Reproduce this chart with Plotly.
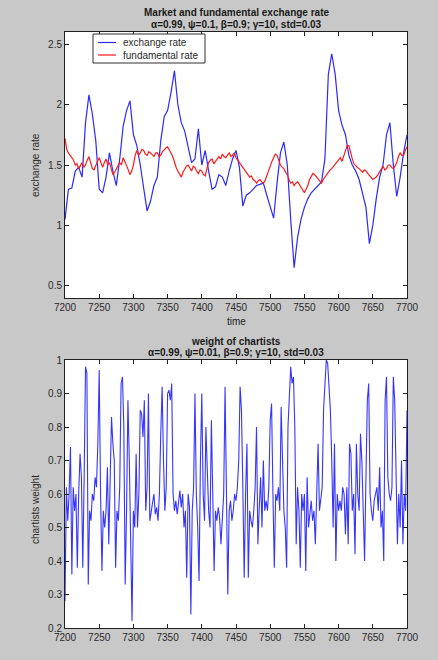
import plotly.graph_objects as go

# ---------------- data ----------------
time_exchange = list(range(7200, 7701, 5))

exchange_rate = [
    1.05, 1.30, 1.31, 1.45, 1.48, 1.40, 1.85, 2.08, 1.92, 1.70,
    1.30, 1.27, 1.40, 1.60, 1.45, 1.33, 1.55, 1.82, 1.95, 2.03,
    1.75, 1.66, 1.50, 1.30, 1.12, 1.20, 1.33, 1.40, 1.70, 1.90,
    1.95, 2.10, 2.28, 2.00, 1.85, 1.78, 1.65, 1.52, 1.55, 1.80,
    1.50, 1.62, 1.45, 1.30, 1.32, 1.42, 1.40, 1.33, 1.45, 1.55,
    1.62, 1.48, 1.16, 1.25, 1.27, 1.30, 1.33, 1.34, 1.35, 1.25,
    1.15, 1.06, 1.35, 1.60, 1.69, 1.50, 1.05, 0.65, 0.90, 1.05,
    1.15, 1.22, 1.27, 1.30, 1.33, 1.36, 1.55, 2.25, 2.42, 2.25,
    1.95, 1.83, 1.75, 1.58, 1.50, 1.45, 1.38, 1.27, 1.15, 0.85,
    1.00, 1.22, 1.40, 1.50, 1.75, 1.85, 1.50, 1.24, 1.40, 1.60,
    1.75,
]

time_fundamental = [7200 + 2.5 * i for i in range(201)]

fundamental_rate = [
    1.72, 1.63, 1.60, 1.58, 1.55, 1.54, 1.50, 1.51, 1.47, 1.50,
    1.52, 1.48, 1.50, 1.54, 1.57, 1.52, 1.47, 1.46, 1.50, 1.53,
    1.56, 1.51, 1.48, 1.52, 1.55, 1.50, 1.52, 1.47, 1.42, 1.44,
    1.47, 1.50, 1.52, 1.50, 1.56, 1.53, 1.50, 1.46, 1.42, 1.45,
    1.50, 1.58, 1.62, 1.58, 1.60, 1.63, 1.62, 1.59, 1.58, 1.61,
    1.60, 1.58, 1.57, 1.60, 1.60, 1.57, 1.58, 1.61, 1.63, 1.64,
    1.65, 1.63, 1.60, 1.57, 1.52, 1.48, 1.45, 1.42, 1.40, 1.44,
    1.47, 1.49, 1.50, 1.47, 1.45, 1.49, 1.48, 1.45, 1.43, 1.46,
    1.45, 1.42, 1.41, 1.47, 1.52, 1.54, 1.55, 1.51, 1.53, 1.56,
    1.57, 1.55, 1.59, 1.57, 1.56, 1.58, 1.60, 1.57, 1.58, 1.60,
    1.56, 1.54, 1.52, 1.49, 1.47, 1.45, 1.44, 1.42, 1.40, 1.41,
    1.38, 1.37, 1.35, 1.37, 1.38, 1.36, 1.35, 1.37, 1.41, 1.46,
    1.50, 1.53, 1.56, 1.59, 1.58, 1.53, 1.50, 1.48, 1.47, 1.44,
    1.42, 1.38, 1.35, 1.36, 1.33, 1.35, 1.36, 1.34, 1.32, 1.29,
    1.27, 1.30, 1.33, 1.38, 1.41, 1.43, 1.42, 1.40, 1.38, 1.36,
    1.35, 1.38, 1.40, 1.43, 1.44, 1.46, 1.47, 1.49, 1.50, 1.53,
    1.55, 1.56, 1.53, 1.58, 1.63, 1.66, 1.66, 1.60, 1.55, 1.51,
    1.49, 1.48, 1.47, 1.45, 1.44, 1.46, 1.45, 1.43, 1.41, 1.40,
    1.38, 1.39, 1.40, 1.42, 1.44, 1.47, 1.49, 1.46, 1.47, 1.50,
    1.50, 1.48, 1.47, 1.49, 1.52, 1.57, 1.60, 1.58, 1.58, 1.62,
    1.65,
]

time_weight = list(range(7200, 7701, 2))

chartist_weight = [
    0.28, 0.62, 0.52, 0.60, 0.74, 0.36, 0.62, 0.55, 0.60, 0.38,
    0.60, 0.72, 0.65, 0.38, 0.65, 0.98, 0.96, 0.33, 0.55, 0.52,
    0.60, 0.58, 0.65, 0.62, 0.75, 0.97, 0.60, 0.37, 0.55, 0.50,
    0.55, 0.68, 0.45, 0.60, 0.83, 0.75, 0.70, 0.38, 0.55, 0.52,
    0.62, 0.93, 0.95, 0.80, 0.33, 0.55, 0.88, 0.70, 0.50, 0.22,
    0.55, 0.50, 0.72, 0.50, 0.60, 0.85, 0.84, 0.77, 0.88, 0.55,
    0.62, 0.90, 0.52, 0.55, 0.58, 0.60, 0.54, 0.56, 0.52, 0.60,
    0.78, 0.92, 0.70, 0.55, 0.62, 0.90, 0.91, 0.88, 0.93, 0.60,
    0.55, 0.58, 0.54, 0.57, 0.61, 0.56, 0.60, 0.50, 0.55, 0.35,
    0.60, 0.56, 0.24, 0.55, 0.62, 0.90, 0.60, 0.50, 0.34, 0.70,
    0.90, 0.60, 0.52, 0.80, 0.65, 0.55, 0.50, 0.82, 0.60, 0.37,
    0.55, 0.52, 0.56, 0.53, 0.45, 0.55, 0.60, 0.92, 0.55, 0.30,
    0.55, 0.58, 0.52, 0.55, 0.60, 0.58, 0.62, 0.70, 0.92, 0.85,
    0.62, 0.35, 0.60, 0.75, 0.35, 0.55, 0.52, 0.50, 0.55, 0.62,
    0.80, 0.45, 0.56, 0.65, 0.50, 0.70, 0.55, 0.58, 0.55, 0.62,
    0.82, 0.87, 0.60, 0.38, 0.60, 0.58, 0.62, 0.55, 0.86, 0.65,
    0.55, 0.50, 0.38, 0.80, 0.92, 0.98, 0.93, 0.95, 0.80, 0.45,
    0.62, 0.55, 0.38, 0.60, 0.55, 0.60, 0.37, 0.65, 0.50, 0.55,
    0.58, 0.52, 0.55, 0.45, 0.62, 0.75, 0.55, 0.58, 0.62, 0.85,
    0.95, 1.00, 0.99, 0.92, 0.85, 0.70, 0.50, 0.75, 0.40, 0.60,
    0.55, 0.58, 0.55, 0.62, 0.60, 0.48, 0.62, 0.45, 0.75, 0.72,
    0.55, 0.60, 0.42, 0.75, 0.60, 0.55, 0.78, 0.70, 0.55, 0.40,
    0.65, 0.88, 0.93, 0.60, 0.55, 0.52, 0.58, 0.60, 0.62, 0.55,
    0.68, 0.50, 0.55, 0.40, 0.88, 0.95, 0.65, 0.60, 0.58, 0.62,
    0.95, 0.88, 0.60, 0.45, 0.60, 0.50, 0.70, 0.45, 0.60, 0.55,
    0.85,
]

top_x_ticks = list(range(7200, 7701, 50))
top_y_ticks = [0.5, 1, 1.5, 2, 2.5]
bottom_y_ticks = [0.2, 0.3, 0.4, 0.5, 0.6, 0.7, 0.8, 0.9, 1]
bottom_y_labels = ["0.2", "0.3", "0.4", "0.5", "0.6", "0.7", "0.8", "0.9", "1"]

legend_names = ["exchange rate", "fundamental rate"]
BLUE = "#2a2aff"
RED = "#ff1a1a"

# ---------------- figure ----------------
W, H = 438, 660
FONT = "Liberation Sans, Arial, sans-serif"
BG = "#c8c8c8"
TXT = "#1a1a1a"

fig = go.Figure()
fig.add_trace(go.Scatter(x=time_exchange, y=exchange_rate, mode="lines",
                         name=legend_names[0], line=dict(color=BLUE, width=1.2),
                         xaxis="x", yaxis="y", hoverinfo="skip"))
fig.add_trace(go.Scatter(x=time_fundamental, y=fundamental_rate, mode="lines",
                         name=legend_names[1], line=dict(color=RED, width=1.2),
                         xaxis="x", yaxis="y", hoverinfo="skip"))
fig.add_trace(go.Scatter(x=time_weight, y=chartist_weight, mode="lines",
                         name="weight", line=dict(color="#3535ff", width=1.1),
                         xaxis="x2", yaxis="y2", hoverinfo="skip"))


def px(v):
    return v / W


def py(v):
    return 1 - v / H


xdom = [px(65), px(407)]
top_dom = [py(298), py(32)]
bot_dom = [py(628), py(360)]

axis_common = dict(showline=True, linecolor="#202020", linewidth=1, mirror="ticks",
                   ticks="inside", ticklen=4, tickcolor="#202020", showgrid=False,
                   zeroline=False, automargin=False,
                   tickfont=dict(family=FONT, size=10, color="#2a2a2a"))

fig.update_layout(
    template="none",
    width=W, height=H,
    autosize=False,
    margin=dict(l=0, r=0, t=0, b=0, pad=0),
    paper_bgcolor=BG, plot_bgcolor="white",
    font=dict(family=FONT, size=10, color=TXT),
    showlegend=False,
    hovermode=False,
    xaxis=dict(domain=xdom, range=[7200, 7700], tickvals=top_x_ticks,
               anchor="y", **axis_common),
    yaxis=dict(domain=top_dom, range=[0.4, 2.6], tickvals=top_y_ticks,
               anchor="x", **axis_common),
    xaxis2=dict(domain=xdom, range=[7200, 7700], tickvals=top_x_ticks,
                anchor="y2", **axis_common),
    yaxis2=dict(domain=bot_dom, range=[0.2, 1.0], tickvals=bottom_y_ticks,
                ticktext=bottom_y_labels, anchor="x2", **axis_common),
)

# legend box (drawn like the MATLAB legend)
fig.add_shape(type="rect", xref="paper", yref="paper",
              x0=px(93), x1=px(205), y0=py(63), y1=py(34),
              line=dict(color="#303030", width=1), fillcolor="white", layer="above")
for i, (name, col) in enumerate(zip(legend_names, [BLUE, RED])):
    yy = 42.5 + 12.5 * i
    fig.add_shape(type="line", xref="paper", yref="paper",
                  x0=px(98), x1=px(116), y0=py(yy), y1=py(yy),
                  line=dict(color=col, width=1.2), layer="above")
    fig.add_annotation(text=name, xref="paper", yref="paper", x=px(121), y=py(yy),
                       xanchor="left", yanchor="middle", showarrow=False,
                       font=dict(family=FONT, size=10, color="#2a2a2a"))

cx = px((65 + 407) / 2)
annots = [
    dict(text="<b>Market and fundamental exchange rate</b>", x=cx, y=py(12)),
    dict(text="<b>α=0.99, ψ=0.1, β=0.9; γ=10, std=0.03</b>", x=cx, y=py(25)),
    dict(text="time", x=cx, y=py(322)),
    dict(text="<b>weight of chartists</b>", x=cx, y=py(341)),
    dict(text="<b>α=0.99, ψ=0.01, β=0.9; γ=10, std=0.03</b>", x=cx, y=py(353)),
]
for a in annots:
    fig.add_annotation(xref="paper", yref="paper", xanchor="center", yanchor="middle",
                       showarrow=False, font=dict(family=FONT, size=10, color=TXT), **a)

for label, yc in [("exchange rate", 165), ("chartists weight", 510)]:
    fig.add_annotation(text=label, xref="paper", yref="paper", x=px(35), y=py(yc),
                       textangle=-90, showarrow=False, xanchor="center", yanchor="middle",
                       font=dict(family=FONT, size=10, color="#2a2a2a"))

fig.write_html("out.html", config={"displayModeBar": False, "staticPlot": True},
               post_script="document.body.style.margin='0px';")
